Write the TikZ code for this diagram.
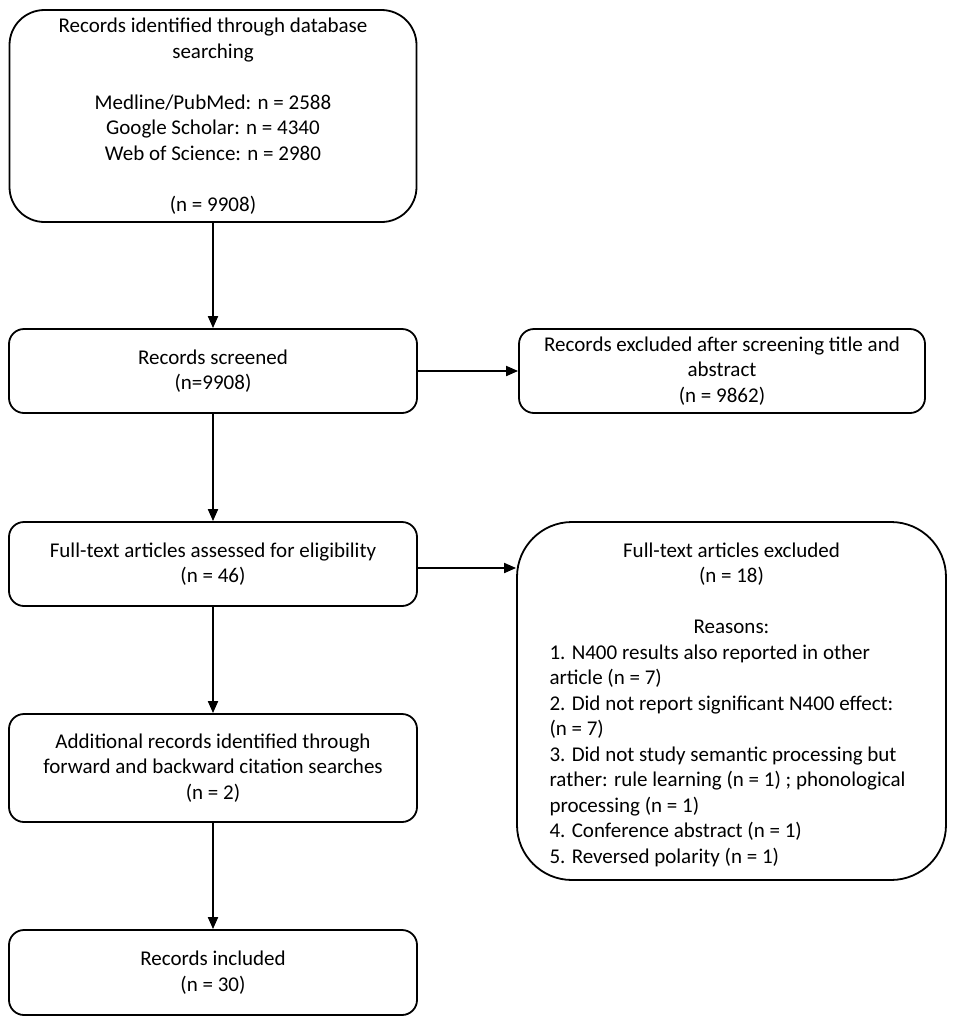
\documentclass[tikz,border=0pt]{standalone}
\usepackage{fontspec}
\setmainfont{Carlito}
\usetikzlibrary{arrows.meta}
\begin{document}
\begin{tikzpicture}[x=1pt,y=-1pt,
  box/.style={draw, line width=1.8pt, rounded corners=15pt, minimum width=408pt,
    align=center, inner sep=0pt, font=\fontsize{21}{25.5}\selectfont},
  arr/.style={line width=1.8pt, -{Triangle[length=12pt,width=10pt]}}]
\fill[white] (0,0) rectangle (957,1026);
\useasboundingbox (0,0) rectangle (957,1026);

\node[box, minimum width=407pt, minimum height=212pt, rounded corners=35pt] (b1) at (213,116)
  {Records identified through database\\searching\\[25.5pt]Medline/PubMed: n = 2588\\Google Scholar: n = 4340\\Web of Science: n = 2980\\[25.5pt](n = 9908)};

\node[box, minimum height=84pt] (b2) at (213,371) {Records screened\\(n=9908)};

\node[box, minimum width=406pt, minimum height=84pt] (b3) at (722,371)
  {Records excluded after screening title and\\abstract\\(n = 9862)};

\node[box, minimum height=84pt] (b4) at (213,564) {Full-text articles assessed for eligibility\\(n = 46)};

\node[box, minimum width=429pt, minimum height=358pt, rounded corners=55pt, text width=368pt, align=left] (b5) at (731.5,701)
  {\spaceskip=0pt\xspaceskip=0pt\parindent=0pt\centering\rule{0pt}{22pt}Full-text articles excluded\\(n = 18)\\[25.5pt]Reasons:\par
   \raggedright\leftskip=2pt 1. N400 results also reported in other\\article (n = 7)\\2. Did not report significant N400 effect:\\(n = 7)\\3. Did not study semantic processing but\\rather: rule learning (n = 1) ; phonological\\processing (n = 1)\\4. Conference abstract (n = 1)\\5. Reversed polarity (n = 1)\par};

\node[box, minimum height=108pt] (b6) at (213,768)
  {Additional records identified through\\forward and backward citation searches\\(n = 2)};

\node[box, minimum height=85pt] (b7) at (213,972.5) {Records included\\(n = 30)};

\draw[arr] (b1) -- (b2);
\draw[arr] (b2) -- (b4);
\draw[arr] (b4) -- (b6);
\draw[arr] (b6) -- (b7);
\draw[arr] (b2) -- (b3);
\coordinate (c4) at ([yshift=-4pt]b4.east);
\draw[arr] (c4) -- (c4 -| b5.west);
\end{tikzpicture}
\end{document}
